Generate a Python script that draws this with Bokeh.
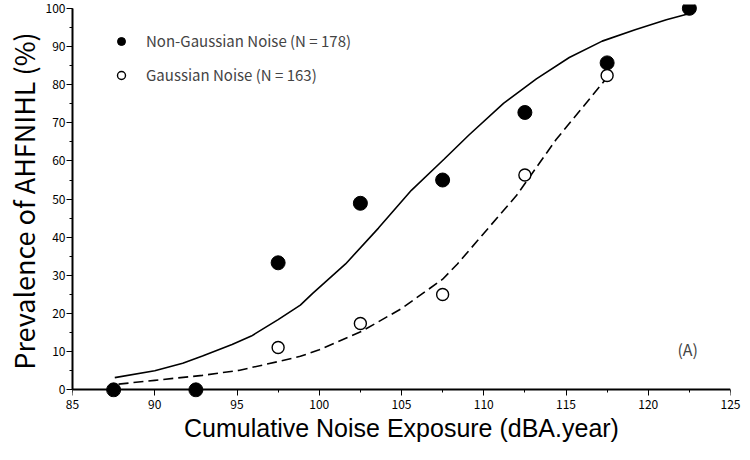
from bokeh.plotting import figure
from bokeh.models import Range1d, Legend, LegendItem, Label, SingleIntervalTicker, LinearAxis
from bokeh.embed import file_html
from bokeh.resources import INLINE

# --- data ---
exposure_levels = [87.5, 92.5, 97.5, 102.5, 107.5, 112.5, 117.5, 122.5]
non_gaussian_pct = [0, 0, 33.3, 48.9, 55.0, 72.7, 85.7, 100]
gaussian_levels = [97.5, 102.5, 107.5, 112.5, 117.5]
gaussian_pct = [11.1, 17.4, 25.0, 56.3, 82.4]

# fitted curves
fit_x_non_gaussian = [87.57, 90.0, 91.7, 92.9, 94.7, 95.87, 97.5, 98.85, 99.6, 101.6, 103.6,
                      105.6, 107.6, 109.1, 111.2, 113.2, 115.2, 117.2, 119.2, 121.1, 122.4]
fit_non_gaussian = [3.2, 5.0, 7.0, 8.9, 11.9, 14.1, 18.4, 22.2, 25.3, 33.0, 42.4,
                    52.3, 60.5, 66.8, 75.1, 81.5, 87.1, 91.4, 94.4, 97.0, 98.5]
fit_x_gaussian = [87.8, 90.0, 92.9, 95.1, 97.7, 98.85, 100.0, 102.6, 105.0, 107.5,
                  108.4, 109.6, 112.0, 114.4, 117.6]
fit_gaussian = [1.5, 2.5, 3.8, 5.1, 7.6, 8.8, 10.5, 15.4, 21.3, 29.0,
                33.0, 39.0, 51.0, 65.6, 82.4]

label_non_gaussian = "Non-Gaussian Noise (N = 178)"
label_gaussian = "Gaussian Noise (N = 163)"
panel_tag = "(A)"

FONT = "Noto Sans CJK JP"

p = figure(width=742, height=444, output_backend="svg", toolbar_location=None,
           x_range=Range1d(85, 125), y_range=Range1d(-2.0, 101),
           min_border_left=0, min_border_right=12, min_border_top=4, min_border_bottom=0)
p.outline_line_color = None
p.grid.visible = False
p.background_fill_color = "white"

# axis line and ticks of the x axis sit at y = 0
p.xaxis.ticker = SingleIntervalTicker(interval=5, num_minor_ticks=2)
p.yaxis.ticker = SingleIntervalTicker(interval=10, num_minor_ticks=2)
p.xaxis.fixed_location = 0
p.xaxis.bounds = (85, 125)
p.yaxis.bounds = (0, 100)
for ax in (p.xaxis, p.yaxis):
    ax.axis_line_width = 2
    ax.axis_line_color = "black"
    ax.major_tick_line_color = "black"
    ax.minor_tick_line_color = "black"
    ax.major_tick_in = 0
    ax.major_tick_out = 6
    ax.minor_tick_in = 0
    ax.minor_tick_out = 3
    ax.major_label_text_font = FONT
    ax.major_label_text_font_size = "12px"
    ax.major_label_text_color = "black"
    ax.axis_label_text_font = FONT
    ax.axis_label_text_font_style = "normal"
    ax.axis_label_text_color = "black"
p.xaxis.major_label_text_color = None
p.xaxis.major_label_text_font_size = "0px"
p.xaxis.major_label_standoff = 0

p.yaxis.major_label_standoff = 1
p.yaxis.axis_label_standoff = 0
p.yaxis.axis_label = "Prevalence of AHFNIHL (%)"
p.yaxis.axis_label_text_font_size = "27px"

# labels and title of the x axis, below the frame
xlab = LinearAxis(ticker=SingleIntervalTicker(interval=5, num_minor_ticks=2),
                  axis_label="Cumulative Noise Exposure (dBA.year)",
                  axis_line_color=None, major_tick_line_color=None, minor_tick_line_color=None,
                  major_tick_in=0, major_tick_out=0, minor_tick_in=0, minor_tick_out=0,
                  major_label_standoff=2, axis_label_standoff=2,
                  major_label_text_font=FONT, major_label_text_font_size="12px",
                  major_label_text_color="black", major_label_text_line_height=1.0,
                  axis_label_text_font="Liberation Sans", axis_label_text_font_size="25px",
                  axis_label_text_line_height=1.0,
                  axis_label_text_font_style="normal", axis_label_text_color="black")
p.add_layout(xlab, "below")

p.line(fit_x_non_gaussian, fit_non_gaussian, line_color="black", line_width=1.6)
p.line(fit_x_gaussian, fit_gaussian, line_color="black", line_width=1.6, line_dash="10 5")

r_filled = p.scatter(exposure_levels, non_gaussian_pct, marker="circle", size=14,
                     fill_color="black", line_color="black")
r_open = p.scatter(gaussian_levels, gaussian_pct, marker="circle", size=12,
                   fill_color="white", line_color="black", line_width=1.4)

legend = Legend(items=[LegendItem(label=label_non_gaussian, renderers=[r_filled]),
                       LegendItem(label=label_gaussian, renderers=[r_open])],
                location=(29, 312), padding=0, margin=0, spacing=13,
                glyph_width=40, glyph_height=20, label_standoff=5,
                label_text_font=FONT, label_text_font_size="15px",
                border_line_color=None, background_fill_alpha=0)
p.add_layout(legend)

p.add_layout(Label(x=122.4, y=10.8, text=panel_tag, text_align="center",
                   text_baseline="middle", text_font=FONT, text_font_size="16px"))

open("out.html", "w").write(file_html(p, INLINE))
